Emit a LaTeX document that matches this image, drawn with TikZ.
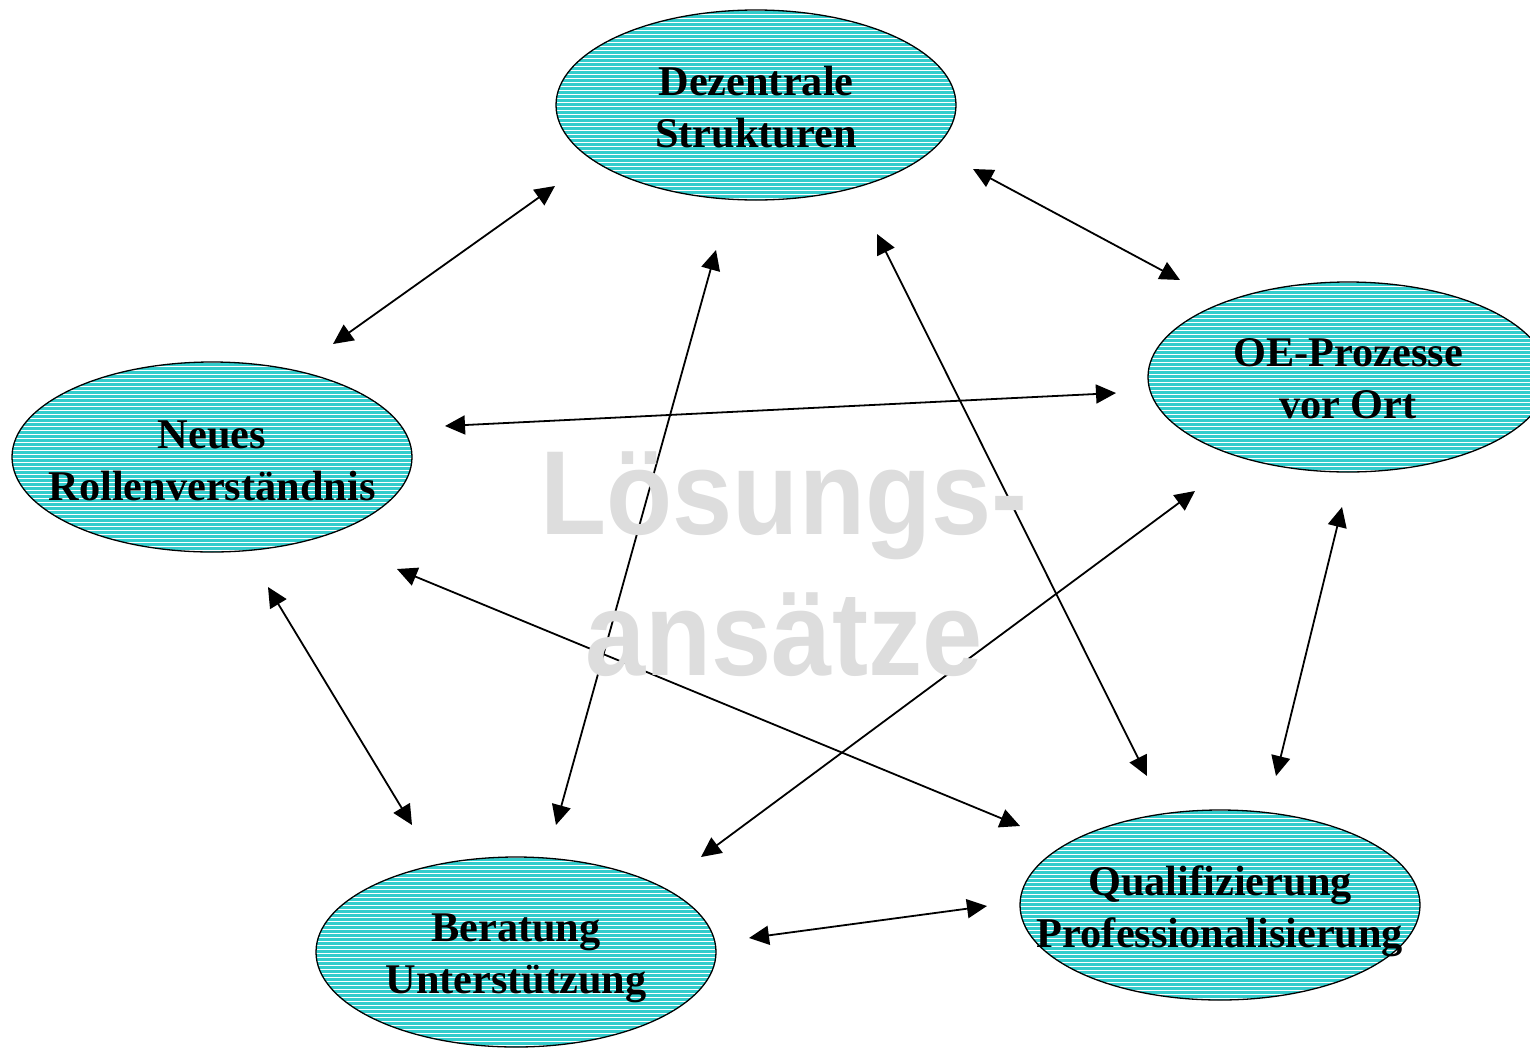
\documentclass[tikz,border=0pt]{standalone}
\usepackage{fontspec}
\setmainfont{Liberation Serif}
\newfontfamily\wmfont{Liberation Sans}
\usetikzlibrary{arrows.meta}
\definecolor{ellteal}{RGB}{51,204,204}
\definecolor{wmgray}{RGB}{221,221,221}
\tikzset{
  topictext/.style={inner sep=0pt, font=\fontsize{42.5}{52}\selectfont\bfseries, align=center},
  hatchline/.style={white, line width=1bp},
  ellborder/.style={draw=black, line width=1.3bp},
  link/.style={line width=1.8bp, {Triangle[length=20bp,width=19bp]}-{Triangle[length=20bp,width=19bp]}},
  watermark/.style={text=wmgray, font=\wmfont\fontsize{120}{142}\selectfont\bfseries, align=center, inner sep=0pt, xscale=0.905, transform shape}
}
\newcommand\hatchell[1]{%
  \begin{scope}[shift={(#1)}]
    \clip (0,0) ellipse [x radius=200, y radius=95];
    \fill[ellteal] (-202,-97) rectangle (202,97);
    \foreach \yy in {-94.5,-90.5,...,95} \draw[hatchline] (-202,\yy) -- (202,\yy);
  \end{scope}
  \draw[ellborder] (#1) ellipse [x radius=200, y radius=95];}
\begin{document}
\begin{tikzpicture}[x=1bp,y=-1bp]
\useasboundingbox (0,0) rectangle (1530,1047);
\coordinate (cdez) at (756,105);
\coordinate (coe) at (1348,377);
\coordinate (cneu) at (212,457);
\coordinate (cber) at (516,952);
\coordinate (cqua) at (1220,905);
\hatchell{cdez}
\hatchell{coe}
\hatchell{cneu}
\hatchell{cber}
\hatchell{cqua}
\node[topictext] (dez) at (756,107) {Dezentrale\\Strukturen};
\node[topictext] (oe) at (1348,379) {OE-Prozesse\\vor Ort};
\node[topictext] (neu) at (212,461) {Neues\\Rollenverständnis};
\node[topictext] (ber) at (516,958) {Beratung\\Unterstützung};
\node[topictext] (qua) at (1220,911) {Qualifizierung\\Professionalisierung};

\coordinate (a1) at (555,186);  \coordinate (b1) at (333,344);
\coordinate (a2) at (973,169);  \coordinate (b2) at (1180,280);
\coordinate (a3) at (716,250);  \coordinate (b3) at (556,825);
\coordinate (a4) at (877,234);  \coordinate (b4) at (1147,776);
\coordinate (a5) at (445,426);  \coordinate (b5) at (1116,393);
\coordinate (a6) at (268,587);  \coordinate (b6) at (412,825);
\coordinate (a7) at (397,569);  \coordinate (b7) at (1020,826);
\coordinate (a8) at (1195,491); \coordinate (b8) at (701,857);
\coordinate (a9) at (1342,507); \coordinate (b9) at (1276,776);
\coordinate (a10) at (749,938); \coordinate (b10) at (987,906);

\draw[link] (a1) -- (b1);
\draw[link] (a2) -- (b2);
\draw[link] (a3) -- (b3);
\draw[link] (a4) -- (b4);
\draw[link] (a5) -- (b5);
\draw[link] (a6) -- (b6);
\draw[link] (a7) -- (b7);
\draw[link] (a8) -- (b8);
\draw[link] (a9) -- (b9);
\draw[link] (a10) -- (b10);

\node[watermark] (wm) at (784,564) {Lösungs-\\ansätze};
\end{tikzpicture}
\end{document}
